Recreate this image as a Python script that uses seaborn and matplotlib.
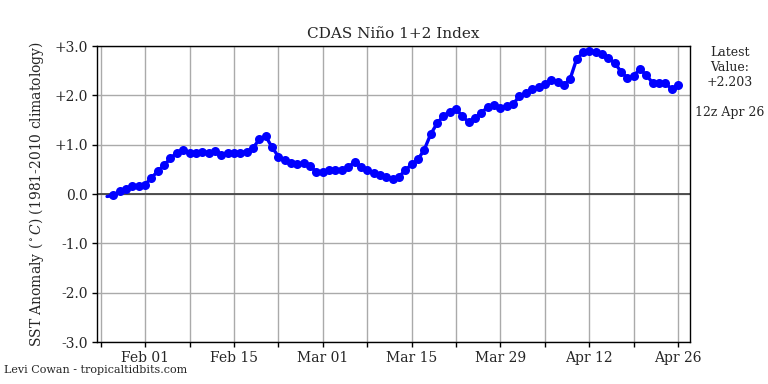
import matplotlib
matplotlib.use("Agg")
import matplotlib.pyplot as plt
import seaborn as sns
import pandas as pd

dates = pd.date_range("2025-01-26", "2025-04-26", freq="D")
anomaly = [
    -0.05, -0.03, 0.06, 0.10, 0.16, 0.16,
    0.19, 0.33, 0.46, 0.59, 0.72, 0.84, 0.90, 0.84, 0.84, 0.86, 0.84, 0.88, 0.80, 0.84,
    0.84, 0.84, 0.86, 0.93, 1.11, 1.17, 0.95, 0.76, 0.69, 0.62, 0.60, 0.62, 0.56, 0.45,
    0.44, 0.48, 0.48, 0.48, 0.54, 0.65, 0.55, 0.49, 0.43, 0.38, 0.35, 0.31, 0.35, 0.48,
    0.60, 0.70, 0.90, 1.21, 1.43, 1.58, 1.67, 1.72, 1.58, 1.45, 1.54, 1.65, 1.76, 1.81,
    1.74, 1.78, 1.82,
    1.99, 2.04, 2.12, 2.16, 2.22, 2.31, 2.28, 2.20, 2.34, 2.73, 2.87, 2.90, 2.88, 2.83,
    2.75, 2.66, 2.48, 2.35, 2.40, 2.53, 2.41, 2.25, 2.25, 2.24, 2.13, 2.203,
]
yticks = [-3, -2, -1, 0, 1, 2, 3]
ytick_labels = ["-3.0", "-2.0", "-1.0", "0.0", "+1.0", "+2.0", "+3.0"]
title = "CDAS Niño 1+2 Index"
ylabel = "SST Anomaly ($^\\circ C$) (1981-2010 climatology)"
latest_text = "Latest\nValue:\n+2.203\n\n12z Apr 26"
credit = "Levi Cowan - tropicaltidbits.com"

df = pd.DataFrame({"date": dates, "anomaly": anomaly})

sns.set_style("white")
plt.rcParams["font.family"] = ["DejaVu Serif"]
plt.rcParams["mathtext.fontset"] = "dejavuserif"

fig = plt.figure(figsize=(7.68, 3.84), dpi=100)
ax = fig.add_axes([97 / 768, 42 / 384, (690 - 97) / 768, (342 - 46) / 384])

ax.axhline(0, color="#444444", lw=1.3, zorder=1)
sns.lineplot(data=df, x="date", y="anomaly", ax=ax, color="#0000ff", lw=2.4,
             marker="o", markersize=6.5, markeredgewidth=0,
             markevery=list(range(1, len(df))), zorder=3)

ax.set_xlim(pd.Timestamp("2025-01-24 10:00"), pd.Timestamp("2025-04-27 21:00"))
ax.set_ylim(-3, 3)
ax.set_yticks(yticks)
ax.set_yticklabels(ytick_labels)

major = pd.date_range("2025-02-01", "2025-04-26", freq="14D")
minor = pd.date_range("2025-01-25", "2025-04-26", freq="7D")
ax.set_xticks(major)
ax.set_xticklabels([d.strftime("%b %d") for d in major])
ax.set_xticks(minor, minor=True)

ax.grid(True, which="major", color="#aaaaaa", lw=1)
ax.grid(True, which="minor", axis="x", color="#aaaaaa", lw=1)
ax.set_axisbelow(True)
for s in ax.spines.values():
    s.set_color("black")
    s.set_linewidth(1)

ax.tick_params(axis="both", which="both", direction="out", length=3.5, width=1,
               labelsize=10, color="black", bottom=True, left=True, pad=3)
ax.tick_params(axis="x", which="major", pad=3)

ax.set_xlabel("")
ax.set_ylabel(ylabel, fontsize=10, labelpad=6)
ax.set_title(title, fontsize=11, pad=6)

fig.text(730 / 768, 1 - 46 / 384, latest_text, ha="center", va="top", fontsize=9,
         linespacing=1.2)
fig.text(4 / 768, 1 - 370 / 384, credit, ha="left", va="center", fontsize=8)

fig.savefig("out.png", dpi=100)
